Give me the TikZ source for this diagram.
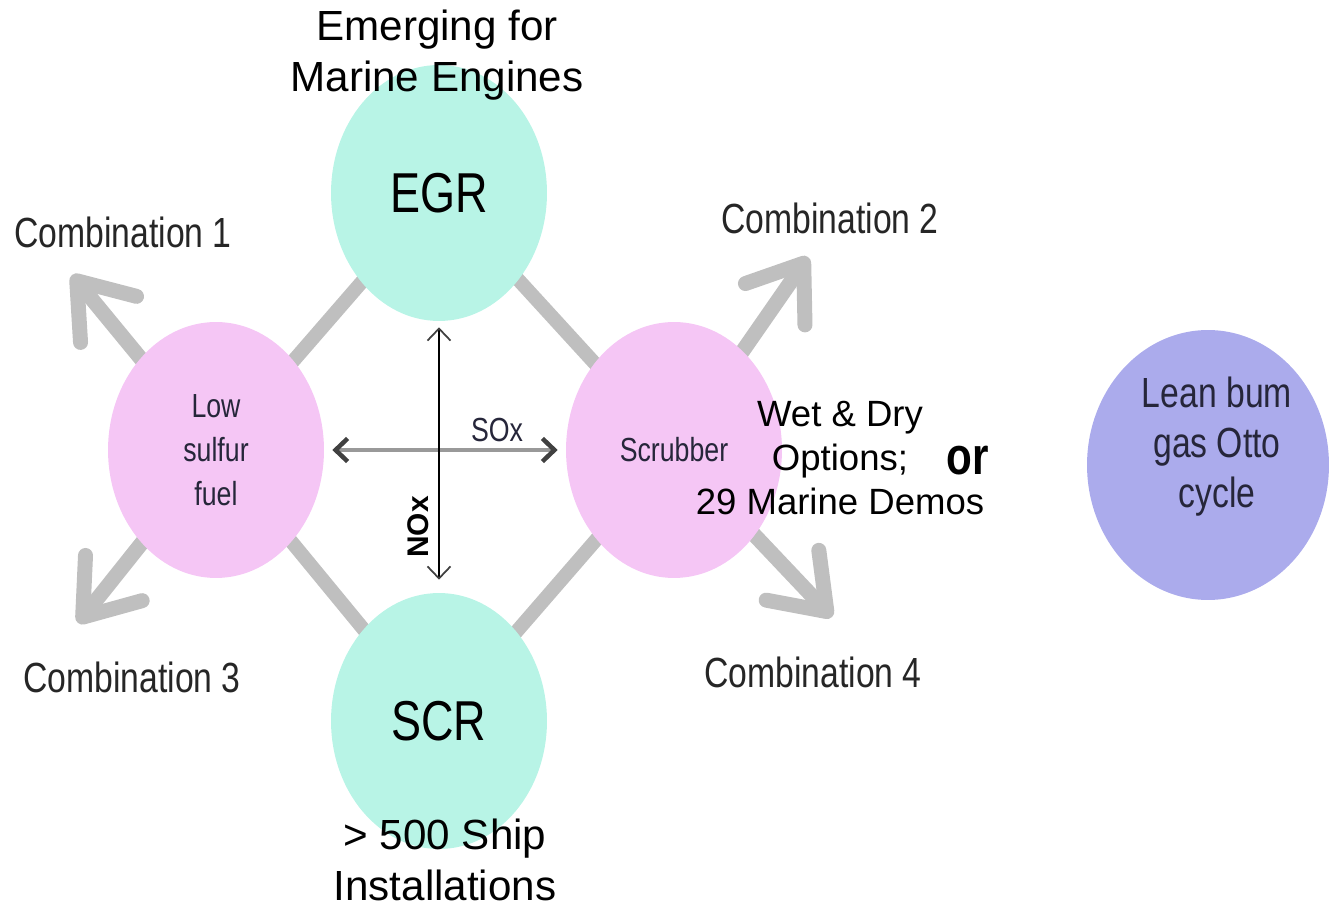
\documentclass[tikz,border=0pt]{standalone}
\usepackage{fontspec}
\setmainfont{Liberation Sans}
\newfontfamily\narrowfont[FakeStretch=0.8]{Liberation Sans}
\usepackage{xcolor}
\usepackage{tikz}
\usetikzlibrary{positioning, arrows.meta, shapes, backgrounds}

\definecolor{mint}{HTML}{B8F4E6}
\definecolor{pinkfill}{HTML}{F5C6F5}
\definecolor{lavender}{HTML}{ABABEC}
\definecolor{linegray}{HTML}{BFBFBF}
\definecolor{inktext}{HTML}{26263A}

\tikzset{
  bubble/.style={ellipse, inner sep=0pt, minimum width=4.32cm, minimum height=5.12cm,
    align=center, text=inktext},
  combarrow/.style={draw=linegray, line width=0.3cm, line cap=round, line join=round,
    -{Straight Barb[length=1cm, width=1.45cm, line cap=round, line join=round]}},
  combtext/.style={font=\narrowfont\fontsize{24}{28}\selectfont, text=black!85},
  notetext/.style={align=center, font=\fontsize{24}{29}\selectfont},
  gasarrow/.style={{Straight Barb[length=0.24cm, width=0.46cm, color=black!75]}-{Straight Barb[length=0.24cm, width=0.46cm, color=black!75]}}
}

\begin{document}
\begin{tikzpicture}[x=0.02cm, y=0.02cm]
        \useasboundingbox (0,0) rectangle (1336,910);

        % Bubbles
        \node[bubble, fill=mint, text=black, font=\narrowfont\fontsize{32}{36}\selectfont] (egr) at (439,717) {EGR};
        \node[bubble, fill=mint, text=black, font=\narrowfont\fontsize{32}{36}\selectfont] (scr) at (439,189) {SCR};
        \node[bubble, fill=pinkfill, font=\narrowfont\fontsize{19}{25}\selectfont] (low) at (216,460) {Low\\sulfur\\fuel};
        \node[bubble, fill=pinkfill, font=\narrowfont\fontsize{19}{25}\selectfont] (scrub) at (674,460) {Scrubber};
        \node[bubble, fill=lavender, minimum width=4.84cm, minimum height=5.4cm] (lean) at (1208,445) {};
        \node[align=center, text=inktext, font=\narrowfont\fontsize{24}{28.5}\selectfont] (leantext) at (1217,463) {Lean bum\\gas Otto\\cycle};

        % Arrow tips
        \coordinate (tip1) at (72,635);
        \coordinate (tip2) at (808,653);
        \coordinate (tip3) at (78,287);
        \coordinate (tip4) at (832,293);

        \begin{scope}[on background layer]
            % Diamond
            \draw[linegray, line width=0.28cm] (egr.center) -- (low.center) -- (scr.center) -- (scrub.center) -- cycle;
            % Combinations
            \draw[combarrow] (low.center) -- (tip1);
            \draw[combarrow] (scrub.center) -- (tip2);
            \draw[combarrow] (low.center) -- (tip3);
            \draw[combarrow] (scrub.center) -- (tip4);
        \end{scope}

        % SOx / NOx
        \draw[gasarrow, draw=black!40, line width=0.09cm, shorten <=0.16cm, shorten >=0.16cm] (low) -- (scrub);
        \draw[gasarrow, draw=black, line width=0.035cm, shorten <=0.12cm, shorten >=0.26cm] (egr) -- (scr);
        \node[font=\narrowfont\fontsize{19}{22}\selectfont, text=inktext] (sox) at (497,480) {SOx};
        \node[font=\bfseries\fontsize{17}{20}\selectfont, rotate=90] (nox) at (418,383) {NOx};

        % Labels
        \node[combtext] (comb1) at (123,678) {Combination 1};
        \node[combtext] (comb2) at (830,692) {Combination 2};
        \node[combtext] (comb3) at (132,233) {Combination 3};
        \node[combtext] (comb4) at (813,238) {Combination 4};

        \node[notetext] (egrnote) at (437,855) {Emerging for\\Marine Engines};
        \node[notetext, font=\fontsize{24}{29}\selectfont] (scrnote) at (445,50) {> 500 Ship\\Installations};
        \node[notetext, font=\fontsize{20.8}{24.8}\selectfont] (scrubnote) at (840,452) {Wet \& Dry\\Options;\\29 Marine Demos};
        \node[font=\narrowfont\bfseries\fontsize{30}{34}\selectfont] (ortext) at (968,449) {or};

    \end{tikzpicture}
\end{document}
